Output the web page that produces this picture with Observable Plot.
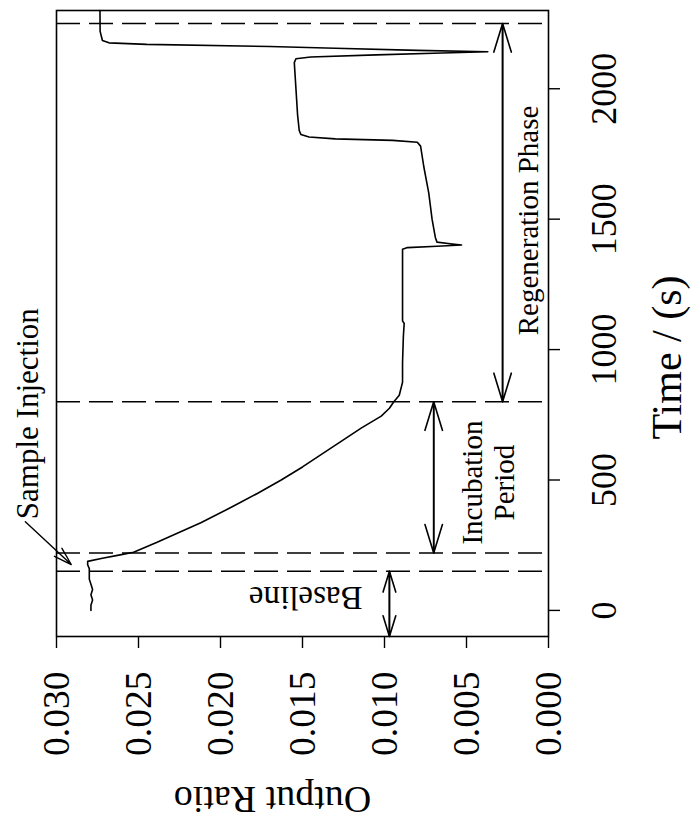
<!DOCTYPE html>
<html>
<head>
<meta charset="utf-8">
<script src="https://cdn.jsdelivr.net/npm/d3@7"></script>
<script src="https://cdn.jsdelivr.net/npm/@observablehq/plot@0.6"></script>
<style>
  html, body { margin: 0; padding: 0; background: #fff; }
  #wrap { position: relative; width: 692px; height: 825px; overflow: hidden; background: #fff; }
  #wrap svg { position: absolute; left: 0; top: 0; max-width: none !important; width: 825px !important; height: 692px !important; transform-origin: 0 0; transform: translateY(825px) rotate(-90deg); }
  #wrap svg text { font-family: 'Liberation Serif', 'Times New Roman', Times, serif !important; font-variant: normal !important; }
</style>
</head>
<body>
<div id="wrap"></div>
<script>
// Time (s) and output ratio
const time = [0, 20, 40, 60, 80, 100, 120, 140, 160, 175, 188, 200, 212, 223, 260, 300, 336, 400, 450, 500, 550, 600, 650, 700, 745, 775, 800, 825, 850, 875, 950, 1050, 1100, 1110, 1200, 1300, 1385, 1391, 1396, 1401, 1406, 1412, 1430, 1500, 1600, 1700, 1780, 1795, 1802, 1808, 1815, 1825, 1840, 1900, 2000, 2100, 2115, 2122, 2130, 2137, 2142, 2147, 2155, 2162, 2170, 2176, 2185, 2220, 2300];
const ratio = [0.0279, 0.0279, 0.0278, 0.0279, 0.0278, 0.0279, 0.0280, 0.0280, 0.0280, 0.0281, 0.0281, 0.0272, 0.0262, 0.0253, 0.0239, 0.0225, 0.0212, 0.0192, 0.0177, 0.0163, 0.0150, 0.0138, 0.0126, 0.0114, 0.0102, 0.0097, 0.00943, 0.0091, 0.0090, 0.0089, 0.0089, 0.00885, 0.0088, 0.0089, 0.0089, 0.0089, 0.0089, 0.0086, 0.0068, 0.0053, 0.0060, 0.0068, 0.0069, 0.0071, 0.0073, 0.0076, 0.0078, 0.0080, 0.0095, 0.0130, 0.0146, 0.0151, 0.0152, 0.0153, 0.0154, 0.0155, 0.0154, 0.0145, 0.0105, 0.0065, 0.0037, 0.0080, 0.0130, 0.0170, 0.0245, 0.0268, 0.0272, 0.02734, 0.02735];

// Phase boundaries (dashed lines), s
const boundaries = [150, 220, 800, 2250];

// Double-headed phase arrows: start, end, output ratio level
const phaseStart = [-100, 220, 800];
const phaseEnd = [150, 800, 2250];
const phaseLevel = [0.0097, 0.0070, 0.0028];

// Sample injection pointer: from label to trace
const injFrom = {t: 340, r: 0.0319};
const injTo = {t: 176, r: 0.0291};

const timeTicks = [0, 500, 1000, 1500, 2000];
const ratioTicks = [0.000, 0.005, 0.010, 0.015, 0.020, 0.025, 0.030];

const trace = time.map((t, i) => ({t, r: ratio[i]}));
const phases = phaseStart.map((s, i) => ({s, e: phaseEnd[i], r: phaseLevel[i]}));

const serif = "'Liberation Serif', 'Times New Roman', Times, serif";

const chart = Plot.plot({
  width: 825,
  height: 692,
  marginLeft: 188,
  marginRight: 11,
  marginTop: 56,
  marginBottom: 144,
  x: {domain: [-100, 2300]},
  y: {domain: [0, 0.03]},
  style: {fontFamily: serif, background: "#fff", color: "#000", overflow: "visible"},
  marks: [
    Plot.ruleX(boundaries, {x: d => d, stroke: "#000", strokeWidth: 1.4, strokeDasharray: "24,9"}),
    Plot.line(trace, {x: "t", y: "r", stroke: "#000", strokeWidth: 1.6}),
    Plot.frame({stroke: "#000", strokeWidth: 1.6}),
    Plot.axisX(timeTicks, {tickSize: 12, tickPadding: 30, fontSize: 36, fontFamily: serif, label: null, strokeWidth: 1.4, tickFormat: d3.format("d")}),
    Plot.axisY(ratioTicks, {tickSize: 11, tickPadding: 24, fontSize: 37.5, fontFamily: serif, label: null, strokeWidth: 1.4, tickFormat: d3.format(".3f")}),
    Plot.text(["Time / (s)"], {frameAnchor: "bottom", dx: -34, dy: 132, lineAnchor: "bottom", fontSize: 42, fontFamily: serif}),
    Plot.text(["Output Ratio"], {frameAnchor: "left", textAnchor: "middle", rotate: -90, dx: -150, dy: -30, lineAnchor: "bottom", fontSize: 38, fontFamily: serif}),
    Plot.arrow(phases, {x1: "s", x2: "e", y1: "r", y2: "r", stroke: "#000", strokeWidth: 1.6, headLength: 28, headAngle: 34}),
    Plot.arrow(phases, {x1: "e", x2: "s", y1: "r", y2: "r", stroke: "#000", strokeWidth: 1.6, headLength: 28, headAngle: 34}),
    Plot.arrow([injFrom], {x1: "t", y1: "r", x2: () => injTo.t, y2: () => injTo.r, stroke: "#000", strokeWidth: 1.4, headLength: 20, headAngle: 34}),
    Plot.text(["Sample Injection"], {x: 350, y: 0.03175, textAnchor: "start", lineAnchor: "middle", fontSize: 31, fontFamily: serif}),
    Plot.text(["Baseline"], {x: 50, y: 0.0148, rotate: -90, lineAnchor: "middle", fontSize: 33, fontFamily: serif}),
    Plot.text(["Incubation\nPeriod"], {x: 490, y: 0.0037, lineAnchor: "middle", lineHeight: 1.1, fontSize: 29, fontFamily: serif}),
    Plot.text(["Regeneration Phase"], {x: 1495, y: 0.0012, lineAnchor: "middle", fontSize: 29, fontFamily: serif})
  ]
});
chart.style.maxWidth = "none";
d3.select(chart).selectAll("text").style("font-family", serif);
document.getElementById("wrap").appendChild(chart);
</script>
</body>
</html>
